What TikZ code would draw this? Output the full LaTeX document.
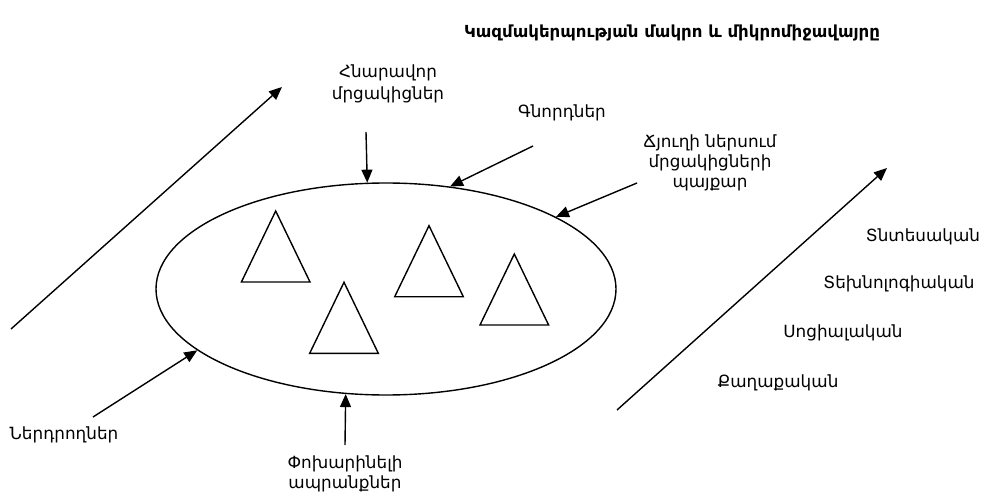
\documentclass[tikz,border=0pt]{standalone}
\usepackage{fontspec}
\setmainfont{DejaVu Sans}
\usetikzlibrary{arrows.meta,shapes.geometric}
\begin{document}
\begin{tikzpicture}[x=1pt,y=-1pt,
  ln/.style={line width=1.4pt},
  arr/.style={line width=1.4pt,-{Triangle[length=13pt,width=11pt]}},
  lbl/.style={font=\fontsize{16.8}{20}\selectfont,align=center,inner sep=0pt},
  tri/.pic={\draw[line width=1.4pt] (0,0) -- (34.3,71) -- (-34.3,71) -- cycle;}]
\useasboundingbox (0,0) rectangle (985,497);
% title
\node[font=\fontsize{16.6}{20}\selectfont\bfseries,inner sep=0pt] (title) at (672,33) {Կազմակերպության մակրո և միկրոմիջավայրը};
% environment ellipse
\node[draw,ellipse,line width=1.4pt,minimum width=460pt,minimum height=212pt,inner sep=0pt] (env) at (386,289) {};
% triangles
\pic at (275.7,211) {tri};
\pic at (344,282.3) {tri};
\pic at (429,225.7) {tri};
\pic at (514.3,254) {tri};
% labels
\node[lbl,font=\fontsize{16.8}{22}\selectfont] (pot) at (388,84) {Հնարավոր\\մրցակիցներ};
\node[lbl] (buy) at (562,113) {Գնորդներ};
\node[lbl] (riv) at (710,163) {Ճյուղի ներսում\\մրցակիցների\\պայքար};
\node[lbl] (inv) at (64,435) {Ներդրողներ};
\node[lbl] (sub) at (345,474) {Փոխարինելի\\ապրանքներ};
\node[lbl] (econ) at (923,237) {Տնտեսական};
\node[lbl] (tech) at (899,284) {Տեխնոլոգիական};
\node[lbl] (soc) at (843,333) {Սոցիալական};
\node[lbl] (pol) at (778,383) {Քաղաքական};
% connector start points
\coordinate (potS) at (366,132);
\coordinate (buyS) at (533,146);
\coordinate (rivS) at (637,183);
\coordinate (invS) at (93,417);
\coordinate (subS) at (345,445);
\coordinate (macL0) at (11,329);
\coordinate (macL1) at (282,87);
\coordinate (macR0) at (617,410);
\coordinate (macR1) at (887,168);
% connectors
\draw[arr] (potS) -- (env.100.7);
\draw[arr] (buyS) -- (env.58.9);
\draw[arr] (rivS) -- (env.23.1);
\draw[arr] (invS) -- (env.198.3);
\draw[arr] (subS) -- (env.249);
\draw[arr] (macL0) -- (macL1);
\draw[arr] (macR0) -- (macR1);
\end{tikzpicture}
\end{document}
